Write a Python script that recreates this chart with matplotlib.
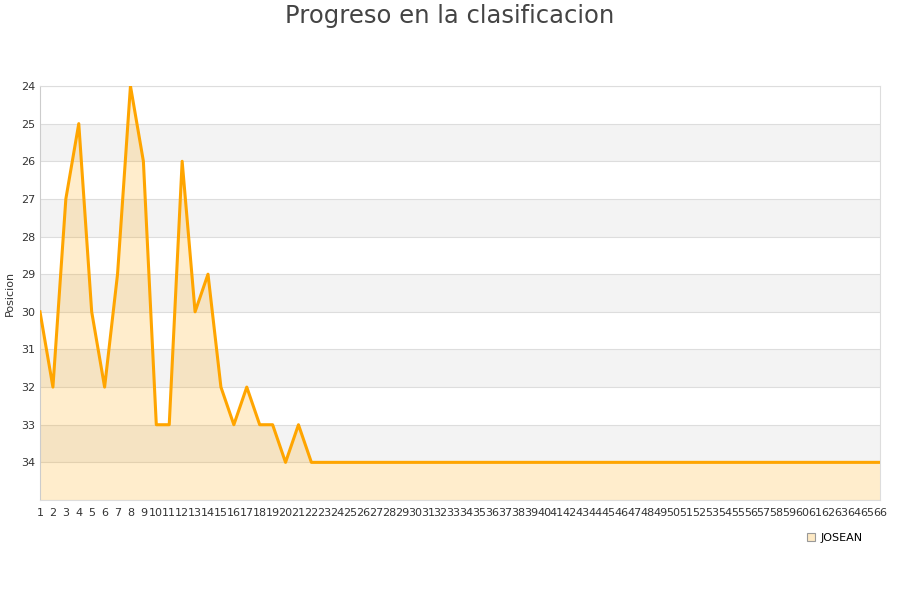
#!/usr/bin/env python3

import matplotlib
matplotlib.use("Agg")
import matplotlib.pyplot as plt
from matplotlib.lines import Line2D

# jornadas and position of the player
jornadas = list(range(1, 67))
posiciones = [30, 32, 27, 25, 30, 32, 29, 24, 26, 33,
              33, 26, 30, 29, 32, 33, 32, 33, 33, 34,
              33, 34] + [34] * 44
jugador = "JOSEAN"
titulo = "Progreso en la clasificacion"
y_ticks = list(range(24, 35))

plt.rcParams["font.family"] = "DejaVu Sans"

fig = plt.figure(figsize=(9, 6), dpi=100)
ax = fig.add_axes([40 / 900, 1 - 500 / 600, 840 / 900, 414 / 600])

ymin, ymax = 24, 35
ax.set_xlim(jornadas[0], jornadas[-1])
ax.set_ylim(ymax, ymin)

# alternating bands
for y in range(ymin, ymax):
    if (y - ymin) % 2 == 1:
        ax.axhspan(y, y + 1, color="#f3f3f3", zorder=0, lw=0)
for y in range(ymin, ymax + 1):
    ax.axhline(y, color="#dddddd", lw=0.8, zorder=1)

ax.fill_between(jornadas, posiciones, ymax, color="#ffa500", alpha=0.2,
                lw=0, zorder=2)
ax.plot(jornadas, posiciones, color="#ffa500", lw=2.2, zorder=3)

ax.set_yticks(y_ticks)
ax.set_xticks(jornadas)
ax.tick_params(axis="both", length=0, labelsize=8, colors="#333333")
ax.tick_params(axis="x", pad=6)
ax.set_ylabel("Posicion", fontsize=8, color="#333333", labelpad=4)

for side in ["top", "right", "bottom"]:
    ax.spines[side].set_color("#dddddd")
ax.spines["left"].set_color("#cccccc")

fig.text(0.5, 0.973, titulo, ha="center", va="center", fontsize=17.5,
         color="#444444")

handle = Line2D([], [], marker="s", linestyle="none", markersize=6,
                markerfacecolor="#fde9c4", markeredgecolor="#999999",
                markeredgewidth=0.8)
fig.legend([handle], [jugador], loc="center", bbox_to_anchor=(834 / 900, 1 - 538 / 600),
           frameon=False, fontsize=8, handletextpad=0.3, handlelength=1)

fig.savefig("out.png", dpi=100)
